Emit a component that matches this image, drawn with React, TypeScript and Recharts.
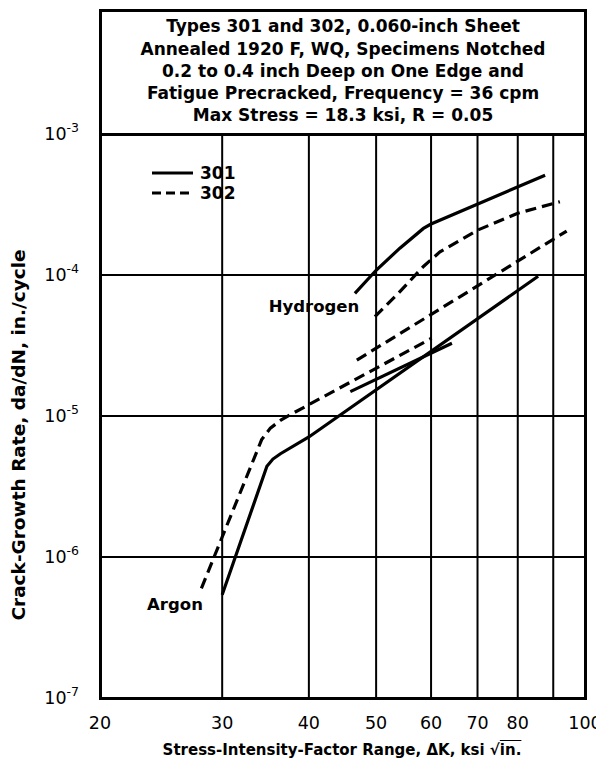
import React from 'react';
import { LineChart, Line, XAxis, YAxis, CartesianGrid } from 'recharts';

// axis ticks
const xTicks = [20, 30, 40, 50, 60, 70, 80, 90, 100];
const xTickLabels = ['20', '30', '40', '50', '60', '70', '80', '', '100'];
const yTicks = [1e-7, 1e-6, 1e-5, 1e-4, 1e-3];

const titleLines = [
  'Types 301 and 302, 0.060-inch Sheet',
  'Annealed 1920 F, WQ, Specimens Notched',
  '0.2 to 0.4 inch Deep on One Edge and',
  'Fatigue Precracked, Frequency = 36 cpm',
  'Max Stress = 18.3 ksi, R = 0.05',
];

// Argon curves
const argon301 = [
  { x: 30, y: 5.4e-7 },
  { x: 34.8, y: 4.4e-6 },
  { x: 35.5, y: 4.95e-6 },
  { x: 36.4, y: 5.4e-6 },
  { x: 40, y: 7.1e-6 },
  { x: 85.6, y: 9.8e-5 },
];
const argon302 = [
  { x: 28, y: 6.0e-7 },
  { x: 34.2, y: 6.8e-6 },
  { x: 35.2, y: 8.2e-6 },
  { x: 36.5, y: 9.4e-6 },
  { x: 38, y: 1.05e-5 },
  { x: 60.1, y: 3.56e-5 },
];

// middle pair
const mid301 = [
  { x: 45.9, y: 1.49e-5 },
  { x: 64.3, y: 3.28e-5 },
];
const mid302 = [
  { x: 46.9, y: 2.49e-5 },
  { x: 94.1, y: 2.05e-4 },
];

// Hydrogen curves
const hydrogen301 = [
  { x: 46.6, y: 7.4e-5 },
  { x: 50, y: 1.08e-4 },
  { x: 54.1, y: 1.55e-4 },
  { x: 58.5, y: 2.14e-4 },
  { x: 60, y: 2.3e-4 },
  { x: 87.6, y: 5.1e-4 },
];
const hydrogen302 = [
  { x: 49.8, y: 5.06e-5 },
  { x: 53.8, y: 7.4e-5 },
  { x: 58.5, y: 1.15e-4 },
  { x: 61.8, y: 1.46e-4 },
  { x: 70, y: 2.08e-4 },
  { x: 80, y: 2.74e-4 },
  { x: 92, y: 3.31e-4 },
];

const FONT = '"DejaVu Sans", sans-serif';
const W = 596;
const H = 757;
const PLOT = { left: 92, top: 126, right: 577, bottom: 690 };
const DASH = '11 6';
const LW = 3.2;

const XTick = ({ x, payload }: any) => {
  const i = xTicks.indexOf(payload.value);
  return (
    <text x={x} y={PLOT.bottom + 31} textAnchor="middle" fontFamily={FONT} fontSize={17.5} fill="#000">
      {xTickLabels[i]}
    </text>
  );
};

const YTick = ({ y, payload }: any) => {
  const exp = Math.round(Math.log10(payload.value));
  return (
    <text x={PLOT.left - 21} y={y + 6} textAnchor="end" fontFamily={FONT} fontSize={17.5} fill="#000">
      10
      <tspan dy={-8} fontSize={12.5}>
        {exp}
      </tspan>
    </text>
  );
};

const bold: React.CSSProperties = { fontFamily: FONT, fontWeight: 'bold', color: '#000', whiteSpace: 'nowrap' };

export default function App() {
  const series = [
    { data: argon301, dash: undefined },
    { data: argon302, dash: DASH },
    { data: mid301, dash: undefined },
    { data: mid302, dash: DASH },
    { data: hydrogen301, dash: undefined },
    { data: hydrogen302, dash: DASH },
  ];

  return (
    <div style={{ position: 'relative', width: W, height: H, background: '#fff' }}>
      <LineChart
        width={W}
        height={H}
        margin={{ top: PLOT.top, right: W - PLOT.right, bottom: 27, left: PLOT.left - 60 }}
      >
        <CartesianGrid stroke="#000" strokeWidth={2} />
        <XAxis
          type="number"
          dataKey="x"
          scale="log"
          domain={[20, 100]}
          ticks={xTicks}
          allowDataOverflow
          height={40}
          axisLine={false}
          tickLine={false}
          tick={<XTick />}
        />
        <YAxis
          type="number"
          scale="log"
          domain={[1e-7, 1e-3]}
          ticks={yTicks}
          allowDataOverflow
          width={60}
          axisLine={false}
          tickLine={false}
          tick={<YTick />}
        />
        {series.map((s, i) => (
          <Line
            key={i}
            data={s.data}
            dataKey="y"
            type="linear"
            stroke="#000"
            strokeWidth={LW}
            strokeDasharray={s.dash}
            dot={false}
            isAnimationActive={false}
          />
        ))}
      </LineChart>

      {/* frame */}
      <div
        style={{
          position: 'absolute',
          left: 91,
          top: 1,
          width: 488,
          height: 691,
          border: '3px solid #000',
          boxSizing: 'border-box',
          pointerEvents: 'none',
        }}
      />
      {/* title box */}
      <div
        style={{
          ...bold,
          position: 'absolute',
          left: 91,
          top: 1,
          width: 488,
          height: 127,
          borderBottom: '3px solid #000',
          boxSizing: 'border-box',
          display: 'flex',
          flexDirection: 'column',
          justifyContent: 'center',
          alignItems: 'center',
          fontSize: 17,
          lineHeight: '22.3px',
        }}
      >
        {titleLines.map((t) => (
          <div key={t}>{t}</div>
        ))}
      </div>

      {/* legend */}
      <div style={{ position: 'absolute', left: 144, top: 155 }}>
        <svg width={100} height={40} style={{ display: 'block' }}>
          <line x1={0} y1={10} x2={41} y2={10} stroke="#000" strokeWidth={LW} />
          <line x1={0} y1={30} x2={41} y2={30} stroke="#000" strokeWidth={LW} strokeDasharray="9 5" />
          <text x={48} y={16} fontFamily={FONT} fontWeight="bold" fontSize={17}>301</text>
          <text x={48} y={36} fontFamily={FONT} fontWeight="bold" fontSize={17}>302</text>
        </svg>
      </div>

      {/* curve annotations */}
      <div style={{ ...bold, position: 'absolute', left: 306, top: 298, transform: 'translate(-50%,-50%)', fontSize: 16.5 }}>
        Hydrogen
      </div>
      <div style={{ ...bold, position: 'absolute', left: 167, top: 596, transform: 'translate(-50%,-50%)', fontSize: 16.5 }}>
        Argon
      </div>

      {/* axis titles */}
      <div style={{ ...bold, position: 'absolute', left: 334, top: 742, transform: 'translate(-50%,-50%)', fontSize: 15 }}>
        Stress-Intensity-Factor Range, ΔK, ksi √<span style={{ textDecoration: 'overline' }}>in.</span>
      </div>
      <div
        style={{
          ...bold,
          position: 'absolute',
          left: 10,
          top: 427,
          transform: 'translate(-50%,-50%) rotate(-90deg)',
          fontSize: 18.5,
        }}
      >
        Crack-Growth Rate, da/dN, in./cycle
      </div>
    </div>
  );
}
